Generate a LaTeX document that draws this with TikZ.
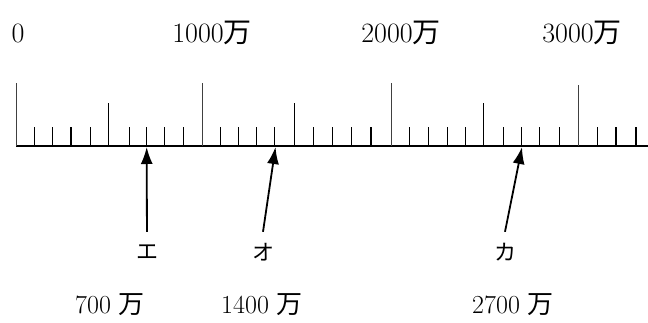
\documentclass[tikz,border=0pt]{standalone}
\usepackage{fontspec}
\newfontfamily\cjk{Noto Sans CJK JP}
\usetikzlibrary{arrows.meta}

\begin{document}
\begin{tikzpicture}[x=1pt,y=1pt,
  minortick/.style={line width=1.4pt},
  halftick/.style={line width=1.1pt},
  majortick/.style={black!75,line width=.8pt},
  toplabel/.style={font=\fontsize{28}{30}\selectfont,inner sep=0pt},
  bottomlabel/.style={font=\fontsize{26}{28}\selectfont,inner sep=0pt},
  kana/.style={font=\fontsize{22}{24}\selectfont\cjk,inner sep=0pt,minimum height=40pt},
  pointer/.style={-{Latex[length=17pt,width=12pt]},line width=1.8pt}]
\useasboundingbox (0,0) rectangle (648,322);
% scale line
\draw[line width=1.8pt] (16,176) -- (648,176);
\draw[majortick] (16.7,176) -- (16.7,239);
\draw[minortick] (34.3,176) -- (34.3,195);
\draw[minortick] (52.3,176) -- (52.3,195);
\draw[minortick] (71.0,176) -- (71.0,195);
\draw[minortick] (90.7,176) -- (90.7,195);
\draw[halftick] (108.3,176) -- (108.3,219);
\draw[minortick] (129.3,176) -- (129.3,195);
\draw[minortick] (146.7,176) -- (146.7,195);
\draw[minortick] (164.3,176) -- (164.3,195);
\draw[minortick] (183.3,176) -- (183.3,195);
\draw[majortick] (202.7,176) -- (202.7,239);
\draw[minortick] (220.7,176) -- (220.7,195);
\draw[minortick] (238.3,176) -- (238.3,195);
\draw[minortick] (256.7,176) -- (256.7,195);
\draw[minortick] (274.3,176) -- (274.3,195);
\draw[halftick] (294.3,176) -- (294.3,219);
\draw[minortick] (313.3,176) -- (313.3,195);
\draw[minortick] (332.7,176) -- (332.7,195);
\draw[minortick] (351.7,176) -- (351.7,195);
\draw[minortick] (371.0,176) -- (371.0,195);
\draw[majortick] (391.0,176) -- (391.0,239);
\draw[minortick] (409.3,176) -- (409.3,195);
\draw[minortick] (428.3,176) -- (428.3,195);
\draw[minortick] (447.3,176) -- (447.3,195);
\draw[minortick] (465.7,176) -- (465.7,195);
\draw[halftick] (483.3,176) -- (483.3,219);
\draw[minortick] (503.3,176) -- (503.3,195);
\draw[minortick] (521.7,176) -- (521.7,195);
\draw[minortick] (539.3,176) -- (539.3,195);
\draw[minortick] (559.3,176) -- (559.3,195);
\draw[majortick] (578.3,176) -- (578.3,237);
\draw[minortick] (597.7,176) -- (597.7,195);
\draw[minortick] (616.0,176) -- (616.0,195);
\draw[minortick] (636.0,176) -- (636.0,195);
% top labels
\node[toplabel] (zero) at (18,289) {0};
\node[toplabel] (tenM) at (212,289) {1000{\cjk 万}};
\node[toplabel] (twentyM) at (401,289) {2000{\cjk 万}};
\node[toplabel] (thirtyM) at (582,289) {3000{\cjk 万}};
% pointed values
\coordinate (eTip) at (146.7,175);
\coordinate (oTip) at (275.5,175);
\coordinate (kaTip) at (522,175);
\node[kana] (eLabel) at (147,70) {エ};
\node[kana] (oLabel) at (263,70) {オ};
\node[kana] (kaLabel) at (505,70) {カ};
\draw[pointer] (eLabel) -- (eTip);
\draw[pointer] (oLabel.north) -- (oTip);
\draw[pointer] (kaLabel.north) -- (kaTip);
\node[bottomlabel] (eValue) at (110,17) {700 {\cjk 万}};
\node[bottomlabel] (oValue) at (262,17) {1400 {\cjk 万}};
\node[bottomlabel] (kaValue) at (513,17) {2700 {\cjk 万}};
\end{tikzpicture}
\end{document}
